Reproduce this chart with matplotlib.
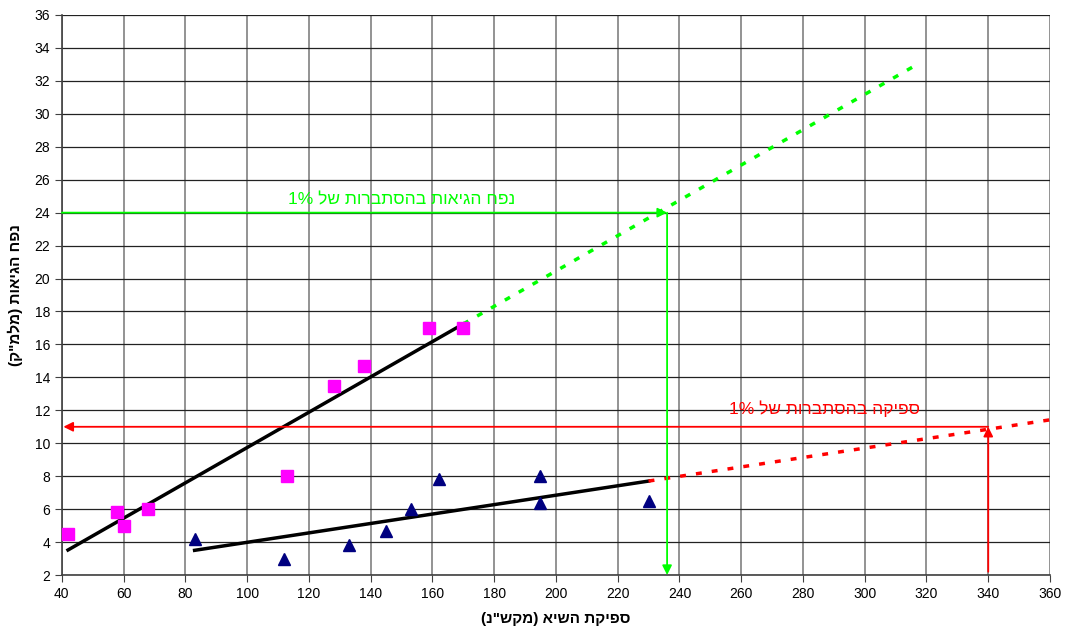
import matplotlib
matplotlib.use('Agg')
import matplotlib.pyplot as plt
import numpy as np

plt.rcParams['font.family'] = ['Liberation Sans', 'DejaVu Sans']

# measured points: peak discharge vs flood volume
sq_x = [42, 58, 60, 68, 113, 128, 138, 159, 170]
sq_y = [4.5, 5.8, 5.0, 6.0, 8.0, 13.5, 14.7, 17.0, 17.0]
tri_x = [83, 112, 133, 145, 153, 162, 195, 195, 230]
tri_y = [4.2, 3.0, 3.8, 4.7, 6.0, 7.8, 8.0, 6.4, 6.5]

# how far the trend lines are extended
sq_ext_end = 318
tri_ext_end = 360

# 1% probability readings
vol_1pct = 24
vol_read_x = 236
peak_1pct = 340
peak_read_y = 11

# hebrew text is written in visual (left-to-right) order, matplotlib has no bidi
txt_vol = '1% לש תורבתסהב תואיגה חפנ'
txt_peak = '1% לש תורבתסהב הקיפס'
xlabel = '(נ"שקמ) אישה תקיפס'
ylabel = '(ק"מלמ) תואיגה חפנ'

fig = plt.figure(figsize=(10.66, 6.38), dpi=100)
ax = fig.add_axes([0.058, 0.0987, 0.927, 0.8778])

ax.set_xlim(40, 360)
ax.set_ylim(2, 36)
ax.set_xticks(np.arange(40, 361, 20))
ax.set_yticks(np.arange(2, 37, 2))
ax.grid(axis='y', color='#222222', lw=0.9)
ax.grid(axis='x', color='#808080', lw=1.2)
ax.set_axisbelow(True)
for s in ['top', 'right']:
    ax.spines[s].set_visible(False)
for s in ['left', 'bottom']:
    ax.spines[s].set_color('#404040')
    ax.spines[s].set_linewidth(1.2)
ax.tick_params(labelsize=10, length=5, color='#404040')

# linear trend lines (excel style) and their extensions
a1, b1 = np.polyfit(sq_x, sq_y, 1)
a2, b2 = np.polyfit(tri_x, tri_y, 1)
x1 = np.array([min(sq_x), max(sq_x)])
x2 = np.array([min(tri_x), max(tri_x)])
ax.plot(x1, a1 * x1 + b1, color='black', lw=2.5, zorder=3)
ax.plot(x2, a2 * x2 + b2, color='black', lw=2.5, zorder=3)
xe1 = np.array([max(sq_x), sq_ext_end])
xe2 = np.array([max(tri_x), tri_ext_end])
ax.plot(xe1, a1 * xe1 + b1, color='#00FF00', lw=2.5, ls=(0, (1.7, 2.9)), zorder=3)
ax.plot(xe2, a2 * xe2 + b2, color='#FF0000', lw=2.5, ls=(0, (1.7, 2.9)), zorder=3)

ax.plot(sq_x, sq_y, 's', color='#FF00FF', ms=9, zorder=4, clip_on=False)
ax.plot(tri_x, tri_y, '^', color='#000080', ms=9, zorder=4, clip_on=False)

# green reading: volume -> discharge
g = '#00FF00'
ax.annotate('', xy=(vol_read_x, vol_1pct), xytext=(40, vol_1pct),
            arrowprops=dict(arrowstyle='-|>', color=g, lw=1.3, mutation_scale=14,
                            shrinkA=0, shrinkB=0), zorder=5)
ax.annotate('', xy=(vol_read_x, 2), xytext=(vol_read_x, vol_1pct),
            arrowprops=dict(arrowstyle='-|>', color=g, lw=1.3, mutation_scale=14,
                            shrinkA=0, shrinkB=0), zorder=5)
ax.text(150, 24.8, txt_vol, color=g, fontsize=12.5, ha='center', va='center')

# red reading: discharge -> volume
r = '#FF0000'
ax.annotate('', xy=(peak_1pct, peak_read_y), xytext=(peak_1pct, 2.2),
            arrowprops=dict(arrowstyle='-|>', color=r, lw=1.3, mutation_scale=14,
                            shrinkA=0, shrinkB=0), zorder=5)
ax.annotate('', xy=(40.5, peak_read_y), xytext=(peak_1pct, peak_read_y),
            arrowprops=dict(arrowstyle='-|>', color=r, lw=1.3, mutation_scale=14,
                            shrinkA=0, shrinkB=0), zorder=5)
ax.text(287, 12.1, txt_peak, color=r, fontsize=12.5, ha='center', va='center')

ax.set_xlabel(xlabel, fontsize=11, fontweight='bold', labelpad=8)
ax.set_ylabel(ylabel, fontsize=11, fontweight='bold', labelpad=8)

fig.savefig('out.png', dpi=100)
